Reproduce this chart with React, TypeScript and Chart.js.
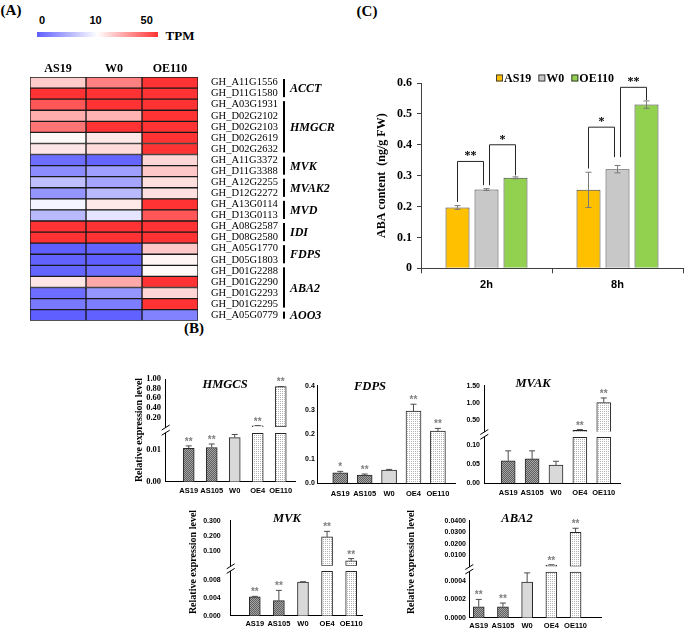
import React, { useEffect, useRef } from 'react';
import { Chart, registerables } from 'chart.js';

Chart.register(...registerables);

const SERIF = 'Liberation Serif';
const SANS = 'Liberation Sans';

/* ---------------- (A) heatmap data ---------------- */
const heatColumns = ['AS19', 'W0', 'OE110'];
const heatGenes = [
  'GH_A11G1556', 'GH_D11G1580', 'GH_A03G1931', 'GH_D02G2102', 'GH_D02G2103',
  'GH_D02G2619', 'GH_D02G2632', 'GH_A11G3372', 'GH_D11G3388', 'GH_A12G2255',
  'GH_D12G2272', 'GH_A13G0114', 'GH_D13G0113', 'GH_A08G2587', 'GH_D08G2580',
  'GH_A05G1770', 'GH_D05G1803', 'GH_D01G2288', 'GH_D01G2290', 'GH_D01G2293',
  'GH_D01G2295', 'GH_A05G0779',
];
const tpmAS19 = [20, 50, 43, 26, 37, 11, 15, 0.9, 2.8, 6, 3.4, 9.4, 5.6, 50, 50, 0, 0.2, 0.3, 15, 0.9, 1.6, 0];
const tpmW0 = [35, 50, 50, 25, 50, 14.5, 17, 0.3, 4, 4.4, 5.6, 14.5, 8.4, 50, 50, 0.3, 0, 0.9, 26.6, 3.4, 1.9, 0.1];
const tpmOE110 = [50, 50, 50, 50, 50, 50, 50, 18, 20.7, 16.5, 16, 50, 43, 50, 50, 20.7, 12, 11, 50, 18, 50, 2.2];
const geneGroups = ['ACCT', 'HMGCR', 'MVK', 'MVAK2', 'MVD', 'IDI', 'FDPS', 'ABA2', 'AOO3'];
const geneGroupSizes = [2, 5, 2, 2, 2, 2, 2, 4, 1];
const tpmScaleTicks = [0, 10, 50];

/* ---------------- (B) qPCR data ---------------- */
const qLines = ['AS19', 'AS105', 'W0', 'OE4', 'OE110'];

const hmgcsMean = [0.0105, 0.0108, 0.0139, 0.025, 0.84];
const hmgcsErr = [0.0008, 0.0011, 0.001, 0.004, 0.004];
const hmgcsStars = ['**', '**', '', '**', '**'];
const hmgcsLowTicks = [0, 0.01];
const hmgcsLowRange = [0, 0.01726];
const hmgcsHighTicks = [0.2, 0.4, 0.6, 0.8, 1.0];
const hmgcsHighRange = [0, 1.0];
const hmgcsCut = 0.0153;

const fdpsMean = [0.043, 0.034, 0.054, 0.296, 0.214];
const fdpsErr = [0.006, 0.004, 0.003, 0.028, 0.011];
const fdpsStars = ['*', '**', '', '**', '**'];
const fdpsTicks = [0, 0.1, 0.2, 0.3, 0.4];
const fdpsRange = [0, 0.4];

const mvakMean = [0.058, 0.063, 0.047, 0.19, 1.0];
const mvakErr = [0.026, 0.021, 0.01, 0.02, 0.14];
const mvakStars = ['', '', '', '**', '**'];
const mvakLowTicks = [0, 0.05, 0.1];
const mvakLowRange = [0, 0.134];
const mvakHighTicks = [0.5, 1.0, 1.5];
const mvakHighRange = [0.153, 1.5];
const mvakCut = 0.119;

const mvkMean = [0.00424, 0.00337, 0.0075, 0.192, 0.033];
const mvkErr = [0.0001, 0.0023, 0.0001, 0.037, 0.015];
const mvkStars = ['**', '**', '', '**', '**'];
const mvkLowTicks = [0, 0.004, 0.008];
const mvkLowRange = [0, 0.01115];
const mvkHighTicks = [0.1, 0.2, 0.3];
const mvkHighRange = [0, 0.3];
const mvkCut = 0.0099;

const aba2Mean = [0.00012, 0.00012, 0.00039, 0.0012, 0.0299];
const aba2Err = [0.00008, 0.00004, 0.0001, 0.0003, 0.0035];
const aba2Stars = ['**', '**', '', '**', '**'];
const aba2LowTicks = [0, 0.0002, 0.0004];
const aba2LowRange = [0, 0.00056];
const aba2HighTicks = [0.01, 0.02, 0.03, 0.04];
const aba2HighRange = [0, 0.04];
const aba2Cut = 0.0005;

/* ---------------- (C) ABA content data ---------------- */
const abaTimes = ['2h', '8h'];
const abaLines = ['AS19', 'W0', 'OE110'];
const abaAS19 = [0.197, 0.254];
const abaAS19Err = [0.006, 0.057];
const abaW0 = [0.255, 0.321];
const abaW0Err = [0.003, 0.012];
const abaOE110 = [0.293, 0.53];
const abaOE110Err = [0.003, 0.012];
const abaSigTime = [0, 0, 1, 1];
const abaSigFrom = [0, 1, 0, 1];
const abaSigTo = [1, 2, 1, 2];
const abaSigLabel = ['**', '*', '*', '**'];
const abaSigLegFrom = [0.215, 0.269, 0.323, 0.36];
const abaSigLegTo = [0.269, 0.301, 0.36, 0.545];
const abaSigTop = [0.346, 0.4, 0.457, 0.586];

/* ---------------- helpers ---------------- */
function tpmColor(v: number): string {
  const blue = [95, 95, 255];
  const white = [255, 255, 255];
  const red = [255, 51, 51];
  const mid = tpmScaleTicks[1];
  const top = tpmScaleTicks[2];
  let a = blue, b = white, t = 0;
  if (v <= mid) { t = Math.max(0, v / mid); }
  else { a = white; b = red; t = Math.min(1, (v - mid) / (top - mid)); }
  const c = a.map((x, i) => Math.round(x + (b[i] - x) * t));
  return `rgb(${c[0]},${c[1]},${c[2]})`;
}

function barFills(ctx: CanvasRenderingContext2D): (CanvasPattern | string)[] {
  const h = document.createElement('canvas');
  h.width = 2; h.height = 2;
  const hc = h.getContext('2d')!;
  hc.fillStyle = '#a6a6a6'; hc.fillRect(0, 0, 2, 2);
  hc.fillStyle = '#5e5e5e'; hc.fillRect(0, 0, 1, 1); hc.fillRect(1, 1, 1, 1);
  const d = document.createElement('canvas');
  d.width = 2; d.height = 2;
  const dc = d.getContext('2d')!;
  dc.fillStyle = '#ffffff'; dc.fillRect(0, 0, 2, 2);
  dc.fillStyle = '#b3b3b3'; dc.fillRect(0, 0, 1, 1);
  const hatch = ctx.createPattern(h, 'repeat')!;
  const dots = ctx.createPattern(d, 'repeat')!;
  return [hatch, hatch, '#d9d9d9', dots, dots];
}

interface BPanel {
  title: string; mean: number[]; err: number[]; stars: string[];
  lowTicks: number[]; lowRange: number[];
  highTicks?: number[]; highRange?: number[]; cut?: number;
  decimals: number; serifTicks?: boolean;
  box: number[]; area: number[]; gap?: number; xRange: number[]; barW: number;
  tickPad: number; xPad: number; titleAt: number[]; ylabelAt?: number[];
}

const bPanels: BPanel[] = [
  {
    title: 'HMGCS', mean: hmgcsMean, err: hmgcsErr, stars: hmgcsStars,
    lowTicks: hmgcsLowTicks, lowRange: hmgcsLowRange, highTicks: hmgcsHighTicks, highRange: hmgcsHighRange, cut: hmgcsCut,
    decimals: 2, serifTicks: true,
    box: [120, 365, 180, 135], area: [165.7, 379, 295.7, 481.7], gap: 427, xRange: [0, 5.65], barW: 11,
    tickPad: 4.7, xPad: 4.6, titleAt: [225, 385], ylabelAt: [139, 430],
  },
  {
    title: 'FDPS', mean: fdpsMean, err: fdpsErr, stars: fdpsStars,
    lowTicks: fdpsTicks, lowRange: fdpsRange, decimals: 1,
    box: [285, 365, 175, 135], area: [317.3, 385.7, 455, 483.3], xRange: [0.06, 5.7], barW: 15,
    tickPad: 2.5, xPad: 6.3, titleAt: [370, 387],
  },
  {
    title: 'MVAK', mean: mvakMean, err: mvakErr, stars: mvakStars,
    lowTicks: mvakLowTicks, lowRange: mvakLowRange, highTicks: mvakHighTicks, highRange: mvakHighRange, cut: mvakCut,
    decimals: 2,
    box: [450, 365, 175, 135], area: [484.3, 385.7, 620, 483.3], gap: 431.5, xRange: [0, 5.68], barW: 14,
    tickPad: 4.3, xPad: 5.6, titleAt: [533, 383.5],
  },
  {
    title: 'MVK', mean: mvkMean, err: mvkErr, stars: mvkStars,
    lowTicks: mvkLowTicks, lowRange: mvkLowRange, highTicks: mvkHighTicks, highRange: mvkHighRange, cut: mvkCut,
    decimals: 3,
    box: [175, 505, 192, 125], area: [230.7, 520.7, 362, 617.7], gap: 566.7, xRange: [0, 5.45], barW: 11,
    tickPad: 10, xPad: 3.6, titleAt: [287, 518.5], ylabelAt: [193, 562],
  },
  {
    title: 'ABA2', mean: aba2Mean, err: aba2Err, stars: aba2Stars,
    lowTicks: aba2LowTicks, lowRange: aba2LowRange, highTicks: aba2HighTicks, highRange: aba2HighRange, cut: aba2Cut,
    decimals: 4,
    box: [400, 505, 210, 125], area: [469.3, 520.7, 601.7, 617.7], gap: 566.5, xRange: [0.61, 6.08], barW: 11,
    tickPad: 3.3, xPad: 3.6, titleAt: [517, 518.5], ylabelAt: [411, 562],
  },
];

function bDecor(p: BPanel) {
  return {
    id: 'bDecor' + p.title,
    afterDatasetsDraw(chart: any) {
      const { ctx, chartArea } = chart;
      const [cl, ct] = p.box;
      const low = chart.scales.yLow;
      const high = chart.scales.yHigh;
      const cut = p.cut ?? Infinity;
      ctx.save();
      if (high) {
        const yc = low.getPixelForValue(cut);
        const yg = high.bottom;
        const L = chartArea.left;
        ctx.fillStyle = '#fff';
        ctx.fillRect(L - 2, yg + 0.5, 4, yc - yg - 1);
        ctx.strokeStyle = '#000';
        ctx.lineWidth = 1;
        ctx.beginPath();
        ctx.moveTo(L - 4, yc + 2); ctx.lineTo(L + 4, yc - 3);
        ctx.moveTo(L - 4, yg + 3); ctx.lineTo(L + 4, yg - 2);
        ctx.stroke();
      }
      p.mean.forEach((v, i) => {
        const up = !!high && v > cut;
        const sc = up ? high : low;
        const el = chart.getDatasetMeta(up ? 1 : 0).data[i];
        const x = el.x;
        const y0 = sc.getPixelForValue(v);
        const y1 = sc.getPixelForValue(v + p.err[i]);
        ctx.strokeStyle = '#4d4d4d';
        ctx.lineWidth = 1;
        ctx.beginPath();
        ctx.moveTo(x, y0); ctx.lineTo(x, y1);
        ctx.moveTo(x - 3, y1); ctx.lineTo(x + 3, y1);
        ctx.stroke();
        if (p.stars[i]) {
          ctx.fillStyle = '#808080';
          ctx.font = `bold 10px "${SANS}"`;
          ctx.textAlign = 'center';
          ctx.textBaseline = 'alphabetic';
          ctx.fillText(p.stars[i], x, y1 - 1);
        }
      });
      ctx.fillStyle = '#000';
      ctx.font = `italic bold 12.5px "${SERIF}"`;
      ctx.textAlign = 'center';
      ctx.textBaseline = 'middle';
      ctx.fillText(p.title, p.titleAt[0] - cl, p.titleAt[1] - ct);
      if (p.ylabelAt) {
        ctx.translate(p.ylabelAt[0] - cl, p.ylabelAt[1] - ct);
        ctx.rotate(-Math.PI / 2);
        ctx.font = `bold 10px "${SERIF}"`;
        ctx.fillText('Relative expression level', 0, 0);
      }
      ctx.restore();
    },
  };
}

function makeBreakChart(canvas: HTMLCanvasElement, p: BPanel) {
  const ctx = canvas.getContext('2d')!;
  const fills = barFills(ctx);
  const [cl, ct, cw, ch] = p.box;
  const [L, T, R, B] = p.area;
  const broken = !!p.highTicks;
  const cut = p.cut ?? Infinity;
  const tickFont = p.serifTicks
    ? { family: SERIF, size: 8.5, weight: 'bold' as const }
    : { family: SANS, size: 7, weight: 'bold' as const };
  const yAxis = (ticks: number[], range: number[], weight?: number) => ({
    type: 'linear', position: 'left', min: range[0], max: range[1],
    ...(broken ? { stack: 'v', stackWeight: weight } : {}),
    afterBuildTicks: (s: any) => { s.ticks = ticks.map((v) => ({ value: v })); },
    afterFit: (s: any) => { s.width = L - cl; },
    ticks: { font: tickFont, color: '#000', padding: p.tickPad, autoSkip: false, callback: (v: any) => Number(v).toFixed(p.decimals) },
    grid: { display: false, drawTicks: false },
    border: { display: true, color: '#000', width: 1 },
  });
  const scales: any = {
    x: {
      type: 'linear', min: p.xRange[0], max: p.xRange[1], offset: false,
      afterBuildTicks: (s: any) => { s.ticks = qLines.map((_, i) => ({ value: i + 1 })); },
      afterFit: (s: any) => { s.height = ct + ch - B; },
      ticks: {
        font: { family: SANS, size: 7.5, weight: 'bold' }, color: '#000', padding: p.xPad,
        maxRotation: 0, autoSkip: false, callback: (v: any) => qLines[Math.round(v) - 1] ?? '',
      },
      grid: { display: false, drawTicks: false },
      border: { display: true, color: '#000', width: 1 },
    },
    yLow: yAxis(p.lowTicks, p.lowRange, broken ? B - (p.gap as number) : undefined),
  };
  if (broken) scales.yHigh = yAxis(p.highTicks as number[], p.highRange as number[], (p.gap as number) - T);
  const common = { backgroundColor: fills, borderColor: '#262626', borderWidth: 1, barThickness: p.barW, grouped: false };
  const datasets: any[] = [
    { ...common, yAxisID: 'yLow', data: p.mean.map((v, i) => ({ x: i + 1, y: Math.min(v, cut) })) },
  ];
  if (broken) {
    datasets.push({ ...common, yAxisID: 'yHigh', borderSkipped: false, data: p.mean.map((v, i) => ({ x: i + 1, y: v > cut ? v : null })) });
  }
  return new Chart(canvas, {
    type: 'bar',
    data: { datasets },
    options: {
      animation: false, responsive: false,
      layout: { autoPadding: false, padding: { left: 0, top: T - ct, right: cl + cw - R, bottom: 0 } },
      plugins: { legend: { display: false }, tooltip: { enabled: false } },
      scales,
    } as any,
    plugins: [bDecor(p)],
  });
}

const heatPlugin = {
  id: 'heatGroups',
  afterDraw(chart: any) {
    const { ctx, chartArea } = chart;
    const ys = chart.scales.y;
    const rowH = ys.getPixelForValue(1) - ys.getPixelForValue(0);
    const bx = chartArea.right + 86;
    ctx.save();
    ctx.fillStyle = '#000';
    ctx.font = `italic bold 12px "${SERIF}"`;
    ctx.textAlign = 'left';
    ctx.textBaseline = 'middle';
    let start = 0;
    geneGroups.forEach((g, k) => {
      const n = geneGroupSizes[k];
      const top = ys.getPixelForValue(start) - rowH / 2 + 2;
      const bot = ys.getPixelForValue(start + n - 1) + rowH / 2 - 2;
      ctx.fillRect(bx - 1, top, 2, bot - top);
      ctx.fillText(g, bx + 6, (top + bot) / 2 + 1);
      start += n;
    });
    ctx.restore();
  },
};

function makeHeatmap(canvas: HTMLCanvasElement) {
  const series = [tpmAS19, tpmW0, tpmOE110];
  return new Chart(canvas, {
    type: 'bar',
    data: {
      labels: heatGenes,
      datasets: heatColumns.map((col, ci) => ({
        label: col,
        data: heatGenes.map(() => 1),
        backgroundColor: series[ci].map(tpmColor),
        borderColor: '#1a1a1a',
        borderWidth: 1,
        borderSkipped: false,
        barPercentage: 1,
        categoryPercentage: 1,
      })),
    },
    options: {
      indexAxis: 'y', animation: false, responsive: false,
      layout: { autoPadding: false, padding: { left: 30, top: 0, right: 0, bottom: 15 } },
      plugins: { legend: { display: false }, tooltip: { enabled: false } },
      scales: {
        x: {
          type: 'linear', stacked: true, position: 'top', min: 0, max: 3,
          afterBuildTicks: (s: any) => { s.ticks = heatColumns.map((_, i) => ({ value: i + 0.5 })); },
          afterFit: (s: any) => { s.height = 27; },
          ticks: { font: { family: SERIF, size: 12, weight: 'bold' }, color: '#000', padding: 1.3, maxRotation: 0, autoSkip: false, callback: (v: any) => heatColumns[Math.floor(v)] },
          grid: { display: false, drawTicks: false },
          border: { display: false },
        },
        y: {
          type: 'category', stacked: true, position: 'right',
          afterFit: (s: any) => { s.width = 147; },
          ticks: { font: { family: SERIF, size: 10.5 }, color: '#000', padding: 13, autoSkip: false },
          grid: { display: false, drawTicks: false },
          border: { display: false },
        },
      },
    } as any,
    plugins: [heatPlugin],
  });
}

const abaPlugin = {
  id: 'abaDecor',
  afterDatasetsDraw(chart: any) {
    const { ctx, chartArea } = chart;
    const y = chart.scales.y;
    const series = [[abaAS19, abaAS19Err], [abaW0, abaW0Err], [abaOE110, abaOE110Err]];
    ctx.save();
    ctx.lineWidth = 1;
    ctx.strokeStyle = '#7a7a7a';
    series.forEach(([m, e], di) => {
      const meta = chart.getDatasetMeta(di);
      m.forEach((v: number, i: number) => {
        const x = meta.data[i].x;
        const y1 = y.getPixelForValue(v - e[i]);
        const y2 = y.getPixelForValue(v + e[i]);
        ctx.beginPath();
        ctx.moveTo(x, y1); ctx.lineTo(x, y2);
        ctx.moveTo(x - 3, y1); ctx.lineTo(x + 3, y1);
        ctx.moveTo(x - 3, y2); ctx.lineTo(x + 3, y2);
        ctx.stroke();
      });
    });
    ctx.strokeStyle = '#262626';
    ctx.fillStyle = '#000';
    ctx.font = `bold 12px "${SERIF}"`;
    ctx.textAlign = 'center';
    ctx.textBaseline = 'alphabetic';
    abaSigTime.forEach((t, k) => {
      const a = abaSigFrom[k];
      const b = abaSigTo[k];
      let xa = chart.getDatasetMeta(a).data[t].x;
      let xb = chart.getDatasetMeta(b).data[t].x;
      if (a === 1) xa += 3;
      if (b === 1) xb -= 3;
      const ya = y.getPixelForValue(abaSigLegFrom[k]);
      const yb = y.getPixelForValue(abaSigLegTo[k]);
      const yt = y.getPixelForValue(abaSigTop[k]);
      ctx.beginPath();
      ctx.moveTo(xa, ya); ctx.lineTo(xa, yt); ctx.lineTo(xb, yt); ctx.lineTo(xb, yb);
      ctx.stroke();
      ctx.fillText(abaSigLabel[k], (xa + xb) / 2, yt - 2);
    });
    // legend
    let lx = chartArea.left + 75;
    const ly = chartArea.top - 5;
    ctx.textAlign = 'left';
    ctx.textBaseline = 'middle';
    abaLines.forEach((name, di) => {
      const ds = chart.data.datasets[di];
      ctx.fillStyle = ds.backgroundColor;
      ctx.fillRect(lx, ly - 3.5, 7, 7);
      ctx.strokeStyle = '#404040';
      ctx.strokeRect(lx + 0.5, ly - 3, 6, 6);
      ctx.fillStyle = '#000';
      ctx.fillText(name, lx + 8, ly + 0.5);
      lx += 8 + ctx.measureText(name).width + 7;
    });
    ctx.restore();
  },
};

function makeAba(canvas: HTMLCanvasElement) {
  const colors = ['#ffc000', '#c8c8c8', '#92d050'];
  const vals = [abaAS19, abaW0, abaOE110];
  return new Chart(canvas, {
    type: 'bar',
    data: {
      labels: abaTimes,
      datasets: abaLines.map((name, i) => ({
        label: name, data: vals[i], backgroundColor: colors[i], borderColor: '#404040', borderWidth: 1,
        categoryPercentage: 0.664, barPercentage: 0.828,
      })),
    },
    options: {
      animation: false, responsive: false,
      layout: { autoPadding: false, padding: { left: 0, top: 23, right: 2, bottom: 0 } },
      plugins: { legend: { display: false }, tooltip: { enabled: false } },
      scales: {
        x: {
          afterFit: (s: any) => { s.height = 36.7; },
          ticks: { font: { family: SANS, size: 11, weight: 'bold' }, color: '#000', padding: 5 },
          grid: { display: true, drawOnChartArea: false, offset: true, tickLength: 5, color: '#404040' },
          border: { color: '#404040' },
        },
        y: {
          min: 0, max: 0.6,
          afterFit: (s: any) => { s.width = 61; },
          ticks: { stepSize: 0.1, font: { family: SERIF, size: 12, weight: 'bold' }, color: '#000', padding: 5, callback: (v: any) => (Number(v) === 0 ? '0' : Number(v).toFixed(1)) },
          grid: { display: true, drawOnChartArea: false, tickLength: 4, color: '#404040' },
          border: { color: '#404040' },
          title: { display: true, text: 'ABA content  (ng/g FW)', font: { family: SERIF, size: 12, weight: 'bold' }, color: '#000', padding: { top: 14.5, bottom: 0 } },
        },
      },
    } as any,
    plugins: [abaPlugin],
  });
}

const Txt = ({ x, y, size, bold = true, serif = true, italic = false, children }: any) => (
  <div
    style={{
      position: 'absolute', left: x, top: y, transform: 'translate(-50%, -50%)', whiteSpace: 'nowrap',
      lineHeight: 1, fontSize: size, fontWeight: bold ? 'bold' : 'normal', fontStyle: italic ? 'italic' : 'normal',
      fontFamily: serif ? `"${SERIF}", serif` : `"${SANS}", sans-serif`, color: '#000',
    }}
  >
    {children}
  </div>
);

export default function App() {
  const heatRef = useRef<HTMLCanvasElement>(null);
  const abaRef = useRef<HTMLCanvasElement>(null);
  const bRefs = useRef<(HTMLCanvasElement | null)[]>([]);

  useEffect(() => {
    const charts: Chart[] = [];
    if (heatRef.current) charts.push(makeHeatmap(heatRef.current));
    if (abaRef.current) charts.push(makeAba(abaRef.current));
    bPanels.forEach((p, i) => {
      const c = bRefs.current[i];
      if (c) charts.push(makeBreakChart(c, p));
    });
    return () => charts.forEach((c) => c.destroy());
  }, []);

  return (
    <div style={{ position: 'absolute', left: 0, top: 0, width: 685, height: 630, background: '#fff', overflow: 'hidden' }}>
      <Txt x={11} y={10} size={15}>(A)</Txt>
      <Txt x={194} y={328} size={15}>(B)</Txt>
      <Txt x={367} y={11} size={15}>(C)</Txt>

      <Txt x={42} y={19.5} size={11} serif={false}>{tpmScaleTicks[0]}</Txt>
      <Txt x={95.5} y={19.5} size={11} serif={false}>{tpmScaleTicks[1]}</Txt>
      <Txt x={146.7} y={19.5} size={11} serif={false}>{tpmScaleTicks[2]}</Txt>
      <div
        style={{
          position: 'absolute', left: 37, top: 32, width: 121, height: 5,
          background: `linear-gradient(to right, ${tpmColor(tpmScaleTicks[0])}, ${tpmColor(tpmScaleTicks[1])} 50%, ${tpmColor(tpmScaleTicks[2])})`,
        }}
      />
      <Txt x={180} y={34.5} size={13}>TPM</Txt>

      <canvas ref={heatRef} width={345} height={290} style={{ position: 'absolute', left: 0, top: 50 }} />
      <canvas ref={abaRef} width={325} height={245} style={{ position: 'absolute', left: 360, top: 60 }} />
      {bPanels.map((p, i) => (
        <canvas
          key={p.title}
          ref={(el) => { bRefs.current[i] = el; }}
          width={p.box[2]}
          height={p.box[3]}
          style={{ position: 'absolute', left: p.box[0], top: p.box[1] }}
        />
      ))}
    </div>
  );
}
